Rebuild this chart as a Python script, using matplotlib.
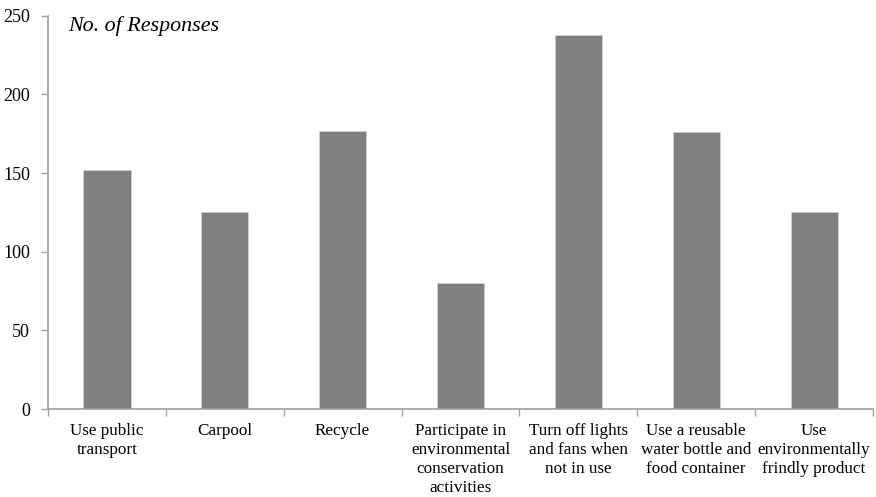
import matplotlib
matplotlib.use("Agg")
import matplotlib.pyplot as plt
import numpy as np

categories = [
    "Use public\ntransport",
    "Carpool",
    "Recycle",
    "Participate in\nenvironmental\nconservation\nactivities",
    "Turn off lights\nand fans when\nnot in use",
    "Use a reusable\nwater bottle and\nfood container",
    "Use\nenvironmentally\nfrindly product",
]
responses = [152, 125, 177, 80, 238, 176, 125]
y_ticks = [0, 50, 100, 150, 200, 250]

plt.rcParams["font.family"] = ["Liberation Serif", "DejaVu Serif"]

fig = plt.figure(figsize=(8.76, 4.97), dpi=100)
ax = fig.add_axes([0.0548, 0.177, 0.9418, 0.7912])

x = np.arange(len(categories))
ax.bar(x, responses, width=0.40, color="#7f7f7f", edgecolor="#d0d0d0",
       linewidth=0.6, zorder=2)

ax.set_xlim(-0.5, len(categories) - 0.5)
ax.set_ylim(0, 250)
ax.set_yticks(y_ticks)
ax.set_yticklabels([str(v) for v in y_ticks])

# category labels centred under bars, ticks at category boundaries
ax.set_xticks(x)
ax.set_xticklabels(categories, fontsize=12.3, linespacing=1.25)
ax.tick_params(axis="x", which="major", length=0, pad=10)
ax.set_xticks(np.arange(-0.5, len(categories) + 0.5, 1), minor=True)
ax.tick_params(axis="x", which="minor", length=5, width=1, color="#a0a0a0",
               direction="out")
ax.tick_params(axis="y", length=5, width=1, color="#a0a0a0", pad=8,
               labelsize=13)

for side in ("top", "right"):
    ax.spines[side].set_visible(False)
for side in ("left", "bottom"):
    ax.spines[side].set_color("#a0a0a0")
    ax.spines[side].set_linewidth(1.2)

ax.text(0.025, 0.975, "No. of Responses", transform=ax.transAxes,
        fontsize=15.8, fontstyle="italic", ha="left", va="center")

fig.savefig("out.png", dpi=100)
